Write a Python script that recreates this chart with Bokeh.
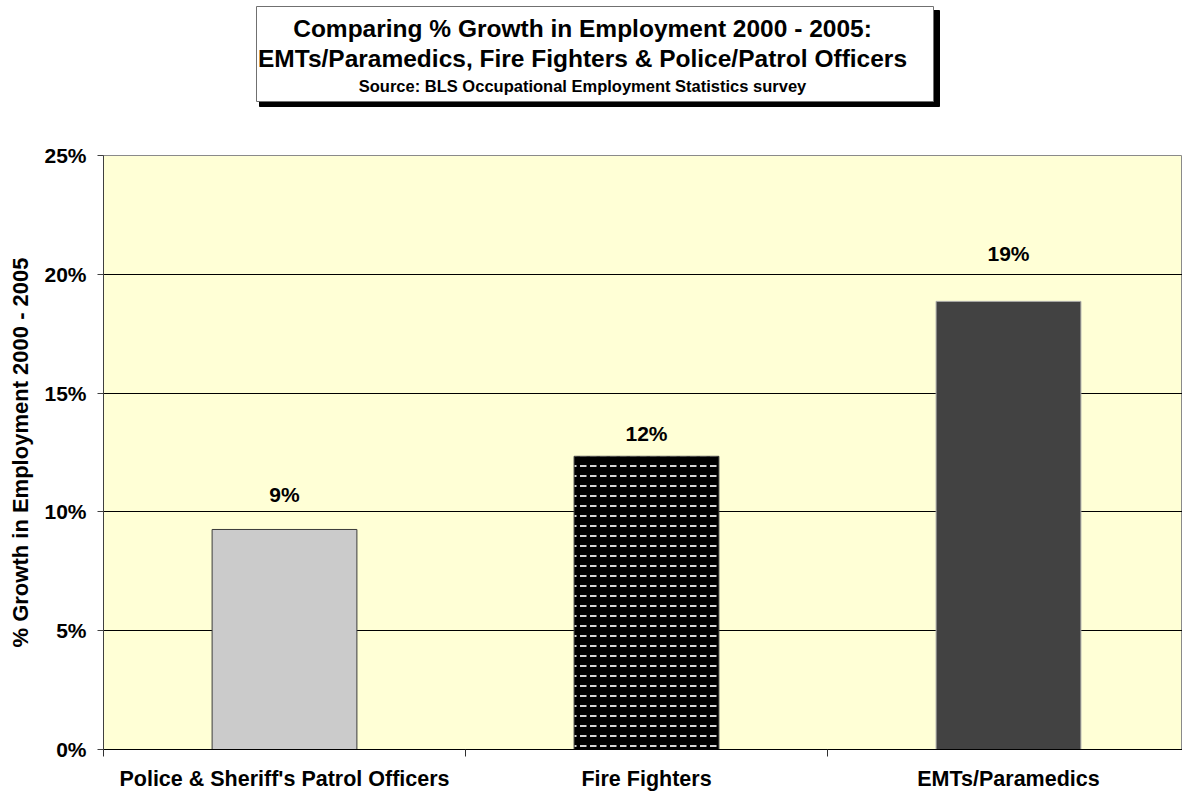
from bokeh.plotting import figure
from bokeh.layouts import column
from bokeh.models import Range1d, FixedTicker, ColumnDataSource, LabelSet
from bokeh.core.properties import value
from bokeh.embed import file_html
from bokeh.resources import INLINE

# ---- data ----
categories = ["Police & Sheriff's Patrol Officers", "Fire Fighters", "EMTs/Paramedics"]
growth_pct = [9.26, 12.34, 18.86]
y_ticks = [0, 5, 10, 15, 20, 25]
y_tick_labels = ["0%", "5%", "10%", "15%", "20%", "25%"]
title_lines = [
    "Comparing % Growth in Employment 2000 - 2005:",
    "EMTs/Paramedics, Fire Fighters & Police/Patrol Officers",
    "Source: BLS Occupational Employment Statistics survey",
]
y_axis_title = "% Growth in Employment 2000 - 2005"

# ---- styles ----
FONT = "Liberation Sans"
fills = ["#CBCBCB", "#000000", "#424242"]
outlines = ["#3A3A3A", "#3A3A3A", "#A8A8A8"]
hatches = [" ", "horizontal_dash", " "]
label_lift = [35, 23, 48]

W = 1182
LEFT = 103
TITLE_H = 120
MAIN_H = 793 - TITLE_H

# ---- title panel (coordinates are page pixels) ----
tf = figure(width=W, height=TITLE_H, x_range=Range1d(LEFT, W), y_range=Range1d(TITLE_H, 0),
            x_axis_type=None, y_axis_type=None, toolbar_location=None,
            output_backend="svg", min_border_left=LEFT, min_border_right=0,
            min_border_top=0, min_border_bottom=0)
tf.outline_line_color = None
tf.grid.visible = False
tf.quad(left=[259], right=[939], top=[10], bottom=[106], fill_color="black", line_color="black")
tf.quad(left=[256], right=[933], top=[6], bottom=[101], fill_color="white",
        line_color="#707070", line_width=1)
tf.text(x=[582, 582, 582], y=[28, 58, 85], text=title_lines,
        text_font=value(FONT), text_font_style="bold",
        text_font_size=["24.5px", "24.5px", "16.5px"],
        text_align="center", text_baseline="middle", text_color="black")

# ---- main chart ----
n = len(categories)
xs = [i + 0.5 for i in range(n)]
src = ColumnDataSource(dict(x=xs, top=growth_pct, fill=fills, line=outlines, hatch=hatches,
                            label=[f"{round(v)}%" for v in growth_pct], lift=label_lift))

p = figure(width=W, height=MAIN_H, x_range=Range1d(0, (W - LEFT) / 362.0),
           y_range=Range1d(0, 25), toolbar_location=None, output_backend="svg",
           min_border_left=LEFT, min_border_right=0, min_border_top=35,
           min_border_bottom=MAIN_H - 35 - 594)
p.background_fill_color = "#FFFFD6"
p.border_fill_color = "white"
p.outline_line_color = "#8A8A8A"
p.outline_line_width = 1

p.vbar(x="x", top="top", bottom=0, width=0.4, source=src, fill_color="fill",
       line_color="line", line_width=1, hatch_pattern="hatch",
       hatch_scale=10, hatch_weight=2, hatch_color="#D4D4D4")

labels = LabelSet(x="x", y="top", text="label", y_offset="lift", source=src,
                  text_align="center", text_baseline="middle",
                  text_font=value(FONT), text_font_style="bold", text_font_size="21px",
                  text_color="black")
p.add_layout(labels)

p.xgrid.visible = False
p.ygrid.ticker = FixedTicker(ticks=y_ticks)
p.ygrid.grid_line_color = "black"
p.ygrid.grid_line_width = 1

ya = p.yaxis[0]
ya.ticker = FixedTicker(ticks=y_ticks)
ya.major_label_overrides = {t: l for t, l in zip(y_ticks, y_tick_labels)}
ya.major_tick_out = 6
ya.major_tick_in = 0
ya.minor_tick_line_color = None
ya.axis_line_color = "#404040"
ya.major_tick_line_color = "#404040"
ya.major_label_text_font = FONT
ya.major_label_text_font_style = "bold"
ya.major_label_text_font_size = "21px"
ya.major_label_text_color = "black"
ya.major_label_standoff = 11
ya.axis_label = y_axis_title
ya.axis_label_text_font = FONT
ya.axis_label_text_font_style = "bold"
ya.axis_label_text_font_size = "22px"
ya.axis_label_text_color = "black"
ya.axis_label_standoff = 8

xa = p.xaxis[0]
xa.ticker = FixedTicker(ticks=xs, minor_ticks=list(range(n)))
xa.major_label_overrides = {x: c for x, c in zip(xs, categories)}
xa.major_tick_out = 0
xa.major_tick_in = 0
xa.major_tick_line_color = None
xa.minor_tick_out = 7
xa.minor_tick_in = 0
xa.minor_tick_line_color = "#303030"
xa.axis_line_color = "black"
xa.major_label_text_font = FONT
xa.major_label_text_font_style = "bold"
xa.major_label_text_font_size = "21.5px"
xa.major_label_text_color = "black"
xa.major_label_standoff = 10

layout = column(tf, p, spacing=0)
open("out.html", "w").write(file_html(layout, INLINE))
